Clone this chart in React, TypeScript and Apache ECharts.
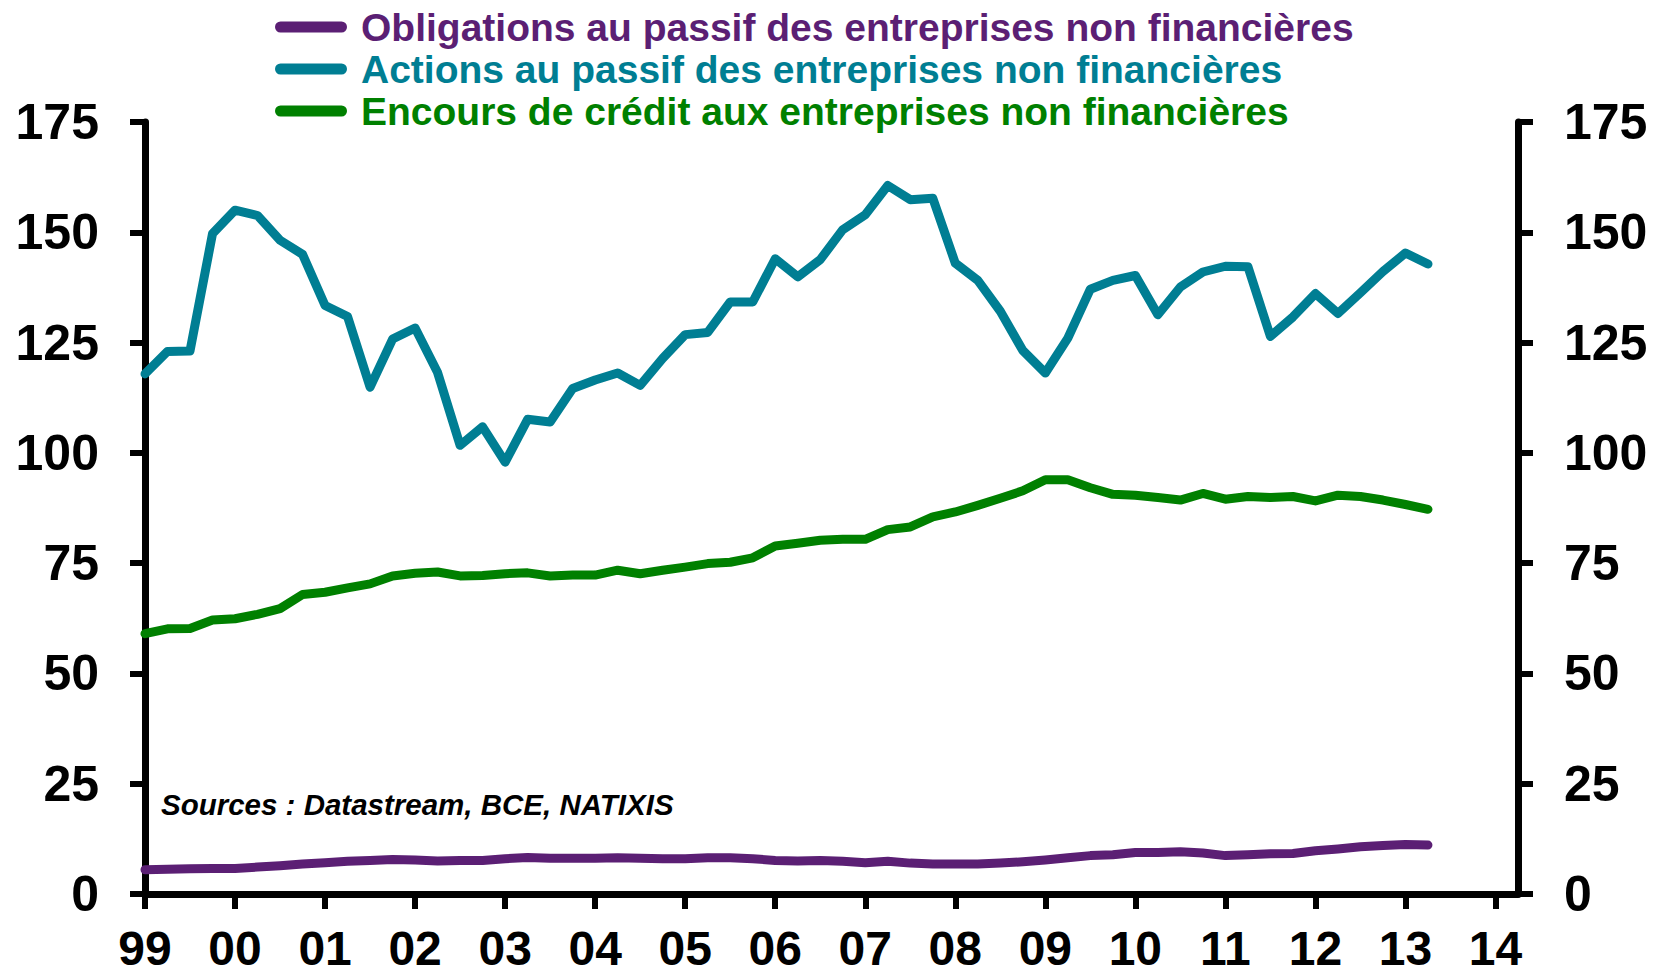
import React, { useEffect, useRef } from "react";
import * as echarts from "echarts";

// Year tick labels (x axis)
const yearLabels = ["99", "00", "01", "02", "03", "04", "05", "06", "07", "08", "09", "10", "11", "12", "13", "14"];
// Quarterly categories: 1999 T1 .. 2014 T2
const categories: string[] = yearLabels
  .flatMap((y) => [y, `${y} T2`, `${y} T3`, `${y} T4`])
  .slice(0, 62);

const seriesNames = [
  "Obligations au passif des entreprises non financières",
  "Actions au passif des entreprises non financières",
  "Encours de crédit aux entreprises non financières",
];
const seriesColors = ["#5B1F74", "#007E93", "#008000"];

// 1999 T1 .. 2013 T2
const obligations = [
  5.5, 5.6, 5.7, 5.8, 5.8, 6.1, 6.4, 6.8, 7.1, 7.4, 7.6, 7.8, 7.7, 7.5, 7.6, 7.6,
  8.0, 8.3, 8.1, 8.1, 8.1, 8.2, 8.1, 8.0, 8.0, 8.2, 8.2, 8.0, 7.6, 7.5, 7.6, 7.4,
  7.1, 7.4, 7.0, 6.8, 6.8, 6.8, 7.0, 7.3, 7.7, 8.2, 8.7, 8.9, 9.4, 9.4, 9.6, 9.3,
  8.7, 8.9, 9.1, 9.2, 9.8, 10.2, 10.7, 11.0, 11.2, 11.1,
];
const actions = [
  117.9, 123.0, 123.1, 149.7, 155.0, 153.8, 148.2, 145.0, 133.4, 130.9, 114.9, 125.8,
  128.3, 118.2, 101.7, 105.9, 97.9, 107.6, 107.0, 114.6, 116.5, 118.1, 115.3, 121.4,
  126.8, 127.3, 134.2, 134.2, 144.0, 139.9, 143.8, 150.6, 154.0, 160.6, 157.4, 157.7,
  143.0, 139.1, 132.1, 123.2, 118.1, 126.0, 137.1, 139.1, 140.2, 131.3, 137.6, 141.0,
  142.3, 142.2, 126.4, 130.8, 136.1, 131.6, 136.3, 141.1, 145.3, 142.8,
];
const credit = [
  59.0, 60.1, 60.2, 62.1, 62.4, 63.4, 64.7, 67.9, 68.4, 69.4, 70.3, 72.1, 72.7, 73.0,
  72.1, 72.2, 72.6, 72.8, 72.1, 72.3, 72.3, 73.4, 72.6, 73.4, 74.1, 74.9, 75.2, 76.2,
  78.9, 79.5, 80.2, 80.4, 80.4, 82.6, 83.2, 85.5, 86.6, 88.1, 89.7, 91.4, 93.9, 93.9,
  92.1, 90.6, 90.4, 89.9, 89.3, 90.8, 89.5, 90.1, 89.9, 90.1, 89.1, 90.4, 90.1, 89.3,
  88.3, 87.2,
];
const seriesData = [obligations, actions, credit];

const sourceText = "Sources : Datastream, BCE, NATIXIS";

const FONT = '"Liberation Sans", Arial, Helvetica, sans-serif';

export default function App() {
  const ref = useRef<HTMLDivElement>(null);

  useEffect(() => {
    if (!ref.current) return;
    const chart = echarts.init(ref.current, undefined, { renderer: "svg" });

    const yAxisBase = (pos: "left" | "right") => ({
      type: "value",
      position: pos,
      min: 0,
      max: 175,
      interval: 25,
      splitLine: { show: false },
      axisLine: { show: true, onZero: false, lineStyle: { color: "#000", width: 7 } },
      axisTick: { show: true, inside: false, length: 15, lineStyle: { color: "#000", width: 6 } },
      axisLabel: {
        margin: 46,
        color: "#000",
        fontFamily: FONT,
        fontWeight: "bold",
        fontSize: 50,
        lineHeight: 44,
      },
    });

    chart.setOption({
      animation: false,
      backgroundColor: "#fff",
      grid: { left: 145, right: 138, top: 122, bottom: 84, containLabel: false },
      legend: {
        orient: "vertical",
        left: 275,
        top: 6,
        padding: 0,
        itemGap: 0,
        itemWidth: 72,
        itemHeight: 11,
        icon: "path://M5.5,0 L66.5,0 A5.5,5.5 0 0 1 66.5,11 L5.5,11 A5.5,5.5 0 0 1 5.5,0 Z",
        selectedMode: false,
        data: seriesNames.map((n, i) => ({
          name: n,
          itemStyle: { color: seriesColors[i] },
          textStyle: {
            color: seriesColors[i],
            fontFamily: FONT,
            fontWeight: "bold",
            fontSize: 39,
            lineHeight: 42,
            padding: [0, 0, 0, 9],
          },
        })),
      },
      xAxis: {
        type: "category",
        data: categories,
        boundaryGap: false,
        axisLine: { show: true, onZero: false, lineStyle: { color: "#000", width: 7 } },
        axisTick: { show: true, inside: false, interval: 3, length: 15, lineStyle: { color: "#000", width: 6 } },
        axisLabel: {
          interval: 3,
          margin: 32,
          color: "#000",
          fontFamily: FONT,
          fontWeight: "bold",
          fontSize: 48,
          lineHeight: 44,
          formatter: (v: string) => v.slice(0, 2),
        },
        splitLine: { show: false },
      },
      yAxis: [yAxisBase("left"), yAxisBase("right")],
      graphic: [
        {
          type: "text",
          left: 161,
          top: 789,
          style: {
            text: sourceText,
            fill: "#000",
            font: `italic bold 29.5px ${FONT}`,
          },
        },
      ],
      series: seriesNames.map((n, i) => ({
        name: n,
        type: "line",
        yAxisIndex: 0,
        data: seriesData[i],
        showSymbol: false,
        symbol: "none",
        smooth: false,
        color: seriesColors[i],
        lineStyle: { color: seriesColors[i], width: 9, cap: "round", join: "round" },
      })),
    });

    return () => chart.dispose();
  }, []);

  return (
    <div
      ref={ref}
      style={{ position: "fixed", left: 0, top: 0, width: 1656, height: 978, background: "#fff" }}
    />
  );
}
